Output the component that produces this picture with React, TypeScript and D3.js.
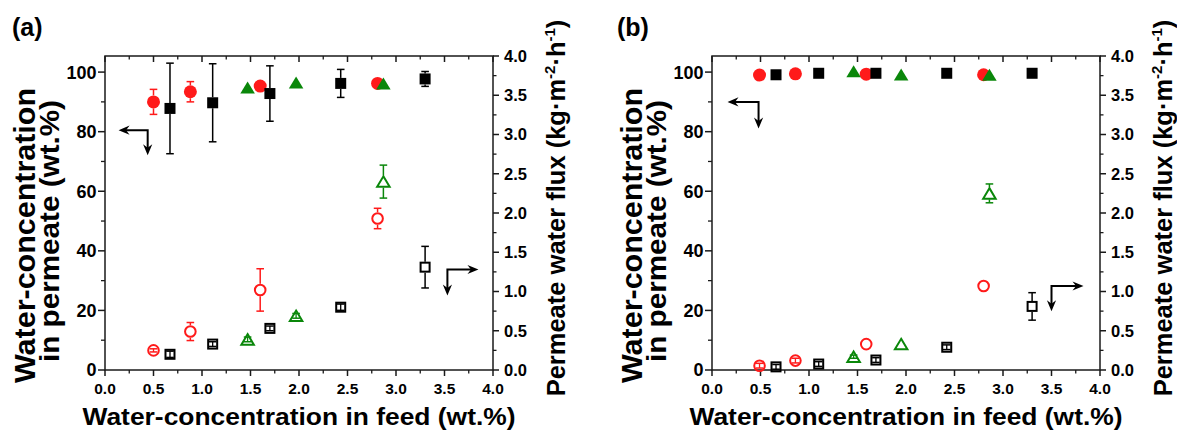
import React from 'react';
import * as d3 from 'd3';

// ---------- shared tick labels ----------
const xTickValues = [0, 0.5, 1, 1.5, 2, 2.5, 3, 3.5, 4];
const xTickLabels = ['0.0', '0.5', '1.0', '1.5', '2.0', '2.5', '3.0', '3.5', '4.0'];
const xMinorValues = [0.25, 0.75, 1.25, 1.75, 2.25, 2.75, 3.25, 3.75];
const leftTickValues = [0, 20, 40, 60, 80, 100];
const leftTickLabels = ['0', '20', '40', '60', '80', '100'];
const leftMinorValues = [10, 30, 50, 70, 90];
const rightTickValues = [0, 0.5, 1, 1.5, 2, 2.5, 3, 3.5, 4];
const rightTickLabels = ['0.0', '0.5', '1.0', '1.5', '2.0', '2.5', '3.0', '3.5', '4.0'];
const rightMinorValues = [0.25, 0.75, 1.25, 1.75, 2.25, 2.75, 3.25, 3.75];

// ---------- panel (a) ----------
const feedRedA = [0.50, 0.88, 1.60, 2.81];
const permRedA = [90.0, 93.4, 95.3, 96.2];
const permRedErrA = [4.2, 3.4, 0, 0];
const fluxRedA = [0.25, 0.49, 1.02, 1.93];
const fluxRedErrA = [0.02, 0.115, 0.27, 0.13];

const feedBlackA = [0.67, 1.11, 1.70, 2.43, 3.30];
const permBlackA = [87.8, 89.7, 92.8, 96.2, 97.7];
const permBlackErrA = [15.2, 13.1, 9.3, 4.7, 2.5];
const fluxBlackA = [0.20, 0.33, 0.53, 0.80, 1.31];
const fluxBlackErrA = [0.04, 0.03, 0.03, 0.04, 0.265];

const feedGreenA = [1.47, 1.97, 2.87];
const permGreenA = [94.8, 96.5, 96.2];
const permGreenErrA = [0, 0, 0];
const fluxGreenA = [0.39, 0.69, 2.40];
const fluxGreenErrA = [0.03, 0.03, 0.21];

// arrows (a), data units: horizontal tip, corner x, arm y, vertical tip
const arrowLeftA = { tipX: 0.14, cornerX: 0.44, y: 80.5, tipY: 72.1 };
const arrowRightA = { tipX: 3.85, cornerX: 3.53, y: 1.28, tipY: 0.95 };

// ---------- panel (b) ----------
const feedRedB = [0.49, 0.86, 1.59, 2.80];
const permRedB = [99.0, 99.4, 99.3, 99.1];
const permRedErrB = [0, 0, 0, 0];
const fluxRedB = [0.055, 0.12, 0.33, 1.07];
const fluxRedErrB = [0.03, 0.03, 0, 0];

const feedBlackB = [0.66, 1.10, 1.69, 2.42, 3.30];
const permBlackB = [99.1, 99.6, 99.6, 99.6, 99.6];
const permBlackErrB = [0, 0, 0, 0, 0];
const fluxBlackB = [0.04, 0.076, 0.127, 0.29, 0.81];
const fluxBlackErrB = [0.03, 0.03, 0.03, 0.03, 0.175];

const feedGreenB = [1.46, 1.95, 2.86];
const permGreenB = [100.3, 99.2, 99.1];
const permGreenErrB = [0, 0, 0];
const fluxGreenB = [0.17, 0.33, 2.25];
const fluxGreenErrB = [0.02, 0, 0.12];

const arrowLeftB = { tipX: 0.16, cornerX: 0.48, y: 90.0, tipY: 81.1 };
const arrowRightB = { tipX: 3.83, cornerX: 3.50, y: 1.07, tipY: 0.75 };

const RED = '#ff1a1a';
const BLACK = '#000000';
const GREEN = '#0a870a';
const AXIS = '#1a1a1a';
const FONT = '"Liberation Sans", Arial, Helvetica, sans-serif';

type Shape = 'circle' | 'square' | 'triangle';

interface Series {
  x: number[];
  y: number[];
  err: number[];
  color: string;
  shape: Shape;
  filled: boolean;
  axis: 'left' | 'right';
}

function marker(shape: Shape, cx: number, cy: number, filled: boolean, color: string, key: string) {
  const sw = 2;
  if (shape === 'circle') {
    const r = filled ? 6.5 : 5.3;
    return <circle key={key} cx={cx} cy={cy} r={r} fill={filled ? color : 'none'} stroke={filled ? 'none' : color} strokeWidth={sw} />;
  }
  if (shape === 'square') {
    const s = filled ? 11 : 9;
    return <rect key={key} x={cx - s / 2} y={cy - s / 2} width={s} height={s} fill={filled ? color : 'none'} stroke={filled ? 'none' : color} strokeWidth={sw} />;
  }
  const w = filled ? 14.5 : 12.5;
  const h = filled ? 12 : 10.5;
  const d = `M${cx},${cy - h / 2}L${cx + w / 2},${cy + h / 2}L${cx - w / 2},${cy + h / 2}Z`;
  return <path key={key} d={d} fill={filled ? color : 'none'} stroke={filled ? 'none' : color} strokeWidth={sw} strokeLinejoin="miter" />;
}

function errorBar(cx: number, cy: number, yTop: number, yBot: number, gap: number, color: string, key: string) {
  const cap = 3.8;
  const els: React.ReactNode[] = [];
  const up = cy - yTop;
  if (up > gap) {
    els.push(<line key={key + 'u'} x1={cx} x2={cx} y1={yTop} y2={cy - gap} stroke={color} strokeWidth={1.5} />);
    els.push(<line key={key + 'd'} x1={cx} x2={cx} y1={cy + gap} y2={yBot} stroke={color} strokeWidth={1.5} />);
  } else {
    els.push(<line key={key + 'f'} x1={cx} x2={cx} y1={yTop} y2={yBot} stroke={color} strokeWidth={1.3} />);
  }
  els.push(<line key={key + 'ct'} x1={cx - cap} x2={cx + cap} y1={yTop} y2={yTop} stroke={color} strokeWidth={1.5} />);
  els.push(<line key={key + 'cb'} x1={cx - cap} x2={cx + cap} y1={yBot} y2={yBot} stroke={color} strokeWidth={1.5} />);
  return <g key={key}>{els}</g>;
}

function Arrow({ pts, key2 }: { pts: [number, number][]; key2: string }) {
  const [a, b, c] = pts;
  const head = (tip: [number, number], from: [number, number], k: string) => {
    const dx = tip[0] - from[0];
    const dy = tip[1] - from[1];
    const len = Math.hypot(dx, dy);
    const ux = dx / len, uy = dy / len;
    const L = 11, W = 4.6;
    const bx = tip[0] - ux * L, by = tip[1] - uy * L;
    const inset = 7.5;
    const ix = tip[0] - ux * inset, iy = tip[1] - uy * inset;
    const d = `M${tip[0]},${tip[1]}L${bx - uy * W},${by + ux * W}L${ix},${iy}L${bx + uy * W},${by - ux * W}Z`;
    return <path key={k} d={d} fill={BLACK} />;
  };
  const la: [number, number] = [a[0] + Math.sign(b[0] - a[0]) * 7, a[1] + Math.sign(b[1] - a[1]) * 7];
  const lc: [number, number] = [c[0] + Math.sign(b[0] - c[0]) * 7, c[1] + Math.sign(b[1] - c[1]) * 7];
  return (
    <g key={key2}>
      <path d={`M${la[0]},${la[1]}L${b[0]},${b[1]}L${lc[0]},${lc[1]}`} fill="none" stroke={BLACK} strokeWidth={2} />
      {head(a, b, key2 + 'h1')}
      {head(c, b, key2 + 'h2')}
    </g>
  );
}

interface PanelProps {
  left: number;
  label: string;
  labelX: number;
  series: Series[];
  arrowL: { tipX: number; cornerX: number; y: number; tipY: number };
  arrowR: { tipX: number; cornerX: number; y: number; tipY: number };
}

function Panel({ left, label, labelX, series, arrowL, arrowR }: PanelProps) {
  const width = 388;
  const right = left + width;
  const top = 56;
  const bottom = 370;
  const x = d3.scaleLinear().domain([0, 4]).range([left, right]);
  const yL = d3.scaleLinear().domain([0, 105.4]).range([bottom, top]);
  const yR = d3.scaleLinear().domain([0, 4]).range([bottom, top]);
  const cx = (left + right) / 2;

  const nodes: React.ReactNode[] = [];
  series.forEach((s, si) => {
    const ys = s.axis === 'left' ? yL : yR;
    const gap = s.shape === 'circle' ? (s.filled ? 6.5 : 6.3) : s.shape === 'square' ? 5.5 : 6;
    s.x.forEach((xv, i) => {
      const e = s.err[i];
      const px = x(xv);
      const py = ys(s.y[i]);
      if (e > 0) nodes.push(errorBar(px, py, ys(s.y[i] + e), ys(s.y[i] - e), gap, s.color, `e${si}-${i}`));
    });
    s.x.forEach((xv, i) => {
      nodes.push(marker(s.shape, x(xv), ys(s.y[i]), s.filled, s.color, `m${si}-${i}`));
    });
  });

  return (
    <g>
      <rect x={left} y={top} width={width} height={bottom - top} fill="none" stroke={AXIS} strokeWidth={1.5} />
      {xTickValues.map((v, i) => (
        <g key={'xt' + i}>
          <line x1={x(v)} x2={x(v)} y1={bottom} y2={bottom + 6} stroke={AXIS} strokeWidth={1.5} />
          <line x1={x(v)} x2={x(v)} y1={top} y2={top + 6} stroke={AXIS} strokeWidth={1.5} />
          <text x={x(v)} y={394} textAnchor="middle" fontSize={15.5} fontWeight="bold" fontFamily={FONT} fill={BLACK}>{xTickLabels[i]}</text>
        </g>
      ))}
      {xMinorValues.map((v, i) => (
        <g key={'xm' + i}>
          <line x1={x(v)} x2={x(v)} y1={bottom} y2={bottom + 3.5} stroke={AXIS} strokeWidth={1.3} />
          <line x1={x(v)} x2={x(v)} y1={top} y2={top + 3.5} stroke={AXIS} strokeWidth={1.3} />
        </g>
      ))}
      {leftTickValues.map((v, i) => (
        <g key={'lt' + i}>
          <line x1={left - 7} x2={left} y1={yL(v)} y2={yL(v)} stroke={AXIS} strokeWidth={1.5} />
          <text x={left - 8.5} y={yL(v)} dy="0.36em" textAnchor="end" fontSize={18} fontWeight="bold" fontFamily={FONT} fill={BLACK}>{leftTickLabels[i]}</text>
        </g>
      ))}
      {leftMinorValues.map((v, i) => (
        <line key={'lm' + i} x1={left - 4} x2={left} y1={yL(v)} y2={yL(v)} stroke={AXIS} strokeWidth={1.3} />
      ))}
      {rightTickValues.map((v, i) => (
        <g key={'rt' + i}>
          <line x1={right} x2={right + 6} y1={yR(v)} y2={yR(v)} stroke={AXIS} strokeWidth={1.5} />
          <text x={right + 11} y={yR(v)} dy="0.36em" textAnchor="start" fontSize={16.5} fontWeight="bold" fontFamily={FONT} fill={BLACK}>{rightTickLabels[i]}</text>
        </g>
      ))}
      {rightMinorValues.map((v, i) => (
        <line key={'rm' + i} x1={right} x2={right + 3.5} y1={yR(v)} y2={yR(v)} stroke={AXIS} strokeWidth={1.3} />
      ))}

      {nodes}

      <Arrow key2="al" pts={[[x(arrowL.tipX), yL(arrowL.y)], [x(arrowL.cornerX), yL(arrowL.y)], [x(arrowL.cornerX), yL(arrowL.tipY)]]} />
      <Arrow key2="ar" pts={[[x(arrowR.tipX), yR(arrowR.y)], [x(arrowR.cornerX), yR(arrowR.y)], [x(arrowR.cornerX), yR(arrowR.tipY)]]} />

      <text x={labelX} y={36} fontSize={25} fontWeight="bold" fontFamily={FONT} fill={BLACK}>{label}</text>

      <text x={cx} y={425} textAnchor="middle" fontSize={23.5} fontWeight="bold" fontFamily={FONT} fill={BLACK} textLength={433} lengthAdjust="spacingAndGlyphs">Water-concentration in feed (wt.%)</text>

      <text transform={`translate(${left - 70},235.5) rotate(-90)`} textAnchor="middle" fontSize={29} fontWeight="bold" fontFamily={FONT} fill={BLACK} textLength={295} lengthAdjust="spacingAndGlyphs">Water-concentration</text>
      <text transform={`translate(${left - 46},231) rotate(-90)`} textAnchor="middle" fontSize={28} fontWeight="bold" fontFamily={FONT} fill={BLACK} textLength={262} lengthAdjust="spacingAndGlyphs">in permeate (wt.%)</text>

      <text transform={`translate(${right + 72},208) rotate(-90)`} textAnchor="middle" fontSize={25.5} fontWeight="bold" fontFamily={FONT} fill={BLACK}>
        <tspan>Permeate water flux (kg·m</tspan>
        <tspan fontSize={15} dy={-10}>-2</tspan>
        <tspan dy={10}>·h</tspan>
        <tspan fontSize={15} dy={-10}>-1</tspan>
        <tspan dy={10}>)</tspan>
      </text>
    </g>
  );
}

export default function App() {
  const seriesA: Series[] = [
    { x: feedRedA, y: permRedA, err: permRedErrA, color: RED, shape: 'circle', filled: true, axis: 'left' },
    { x: feedRedA, y: fluxRedA, err: fluxRedErrA, color: RED, shape: 'circle', filled: false, axis: 'right' },
    { x: feedBlackA, y: permBlackA, err: permBlackErrA, color: BLACK, shape: 'square', filled: true, axis: 'left' },
    { x: feedBlackA, y: fluxBlackA, err: fluxBlackErrA, color: BLACK, shape: 'square', filled: false, axis: 'right' },
    { x: feedGreenA, y: permGreenA, err: permGreenErrA, color: GREEN, shape: 'triangle', filled: true, axis: 'left' },
    { x: feedGreenA, y: fluxGreenA, err: fluxGreenErrA, color: GREEN, shape: 'triangle', filled: false, axis: 'right' },
  ];
  const seriesB: Series[] = [
    { x: feedRedB, y: permRedB, err: permRedErrB, color: RED, shape: 'circle', filled: true, axis: 'left' },
    { x: feedRedB, y: fluxRedB, err: fluxRedErrB, color: RED, shape: 'circle', filled: false, axis: 'right' },
    { x: feedBlackB, y: permBlackB, err: permBlackErrB, color: BLACK, shape: 'square', filled: true, axis: 'left' },
    { x: feedBlackB, y: fluxBlackB, err: fluxBlackErrB, color: BLACK, shape: 'square', filled: false, axis: 'right' },
    { x: feedGreenB, y: permGreenB, err: permGreenErrB, color: GREEN, shape: 'triangle', filled: true, axis: 'left' },
    { x: feedGreenB, y: fluxGreenB, err: fluxGreenErrB, color: GREEN, shape: 'triangle', filled: false, axis: 'right' },
  ];
  return (
    <svg width={1177} height={432} style={{ position: 'absolute', left: 0, top: 0, background: '#fff' }}>
      <rect x={0} y={0} width={1177} height={432} fill="#fff" />
      <Panel left={105} label="(a)" labelX={12} series={seriesA} arrowL={arrowLeftA} arrowR={arrowRightA} />
      <Panel left={712} label="(b)" labelX={617} series={seriesB} arrowL={arrowLeftB} arrowR={arrowRightB} />
    </svg>
  );
}
